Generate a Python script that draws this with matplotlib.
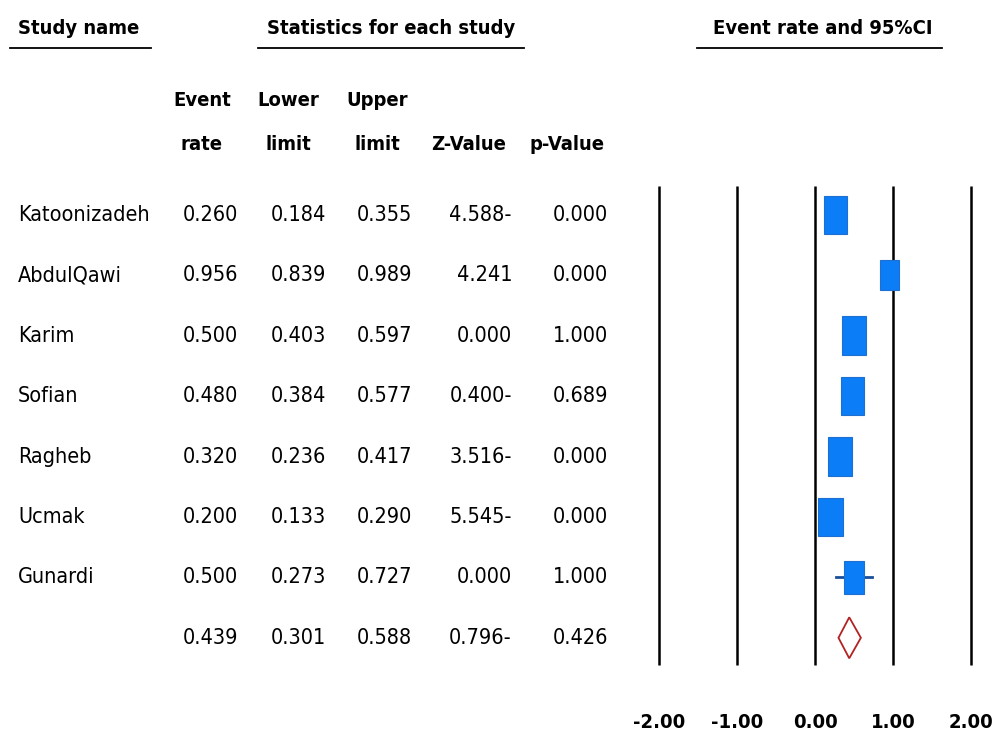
import matplotlib
matplotlib.use("Agg")
import matplotlib.pyplot as plt
from matplotlib.patches import Rectangle, Polygon
import matplotlib.font_manager as fm

# ---------------- data ----------------
studies = ["Katoonizadeh", "AbdulQawi", "Karim", "Sofian", "Ragheb", "Ucmak", "Gunardi"]
event_rate = [0.260, 0.956, 0.500, 0.480, 0.320, 0.200, 0.500]
lower_limit = [0.184, 0.839, 0.403, 0.384, 0.236, 0.133, 0.273]
upper_limit = [0.355, 0.989, 0.597, 0.577, 0.417, 0.290, 0.727]
z_value = [-4.588, 4.241, 0.000, -0.400, -3.516, -5.545, 0.000]
p_value = [0.000, 0.000, 1.000, 0.689, 0.000, 0.000, 1.000]
weights = [1.00, 0.80, 1.03, 1.00, 1.03, 1.03, 0.88]

summary_rate = 0.439
summary_lower = 0.301
summary_upper = 0.588
summary_z = -0.796
summary_p = 0.426

axis_ticks = [-2.0, -1.0, 0.0, 1.0, 2.0]
# --------------------------------------

names = [f.name for f in fm.fontManager.ttflist]
FAM = ["Liberation Sans Narrow", "DejaVu Sans"] if "Liberation Sans Narrow" in names else ["DejaVu Sans"]
STRETCH = "normal" if "Liberation Sans Narrow" in names else "condensed"

W, H = 1000, 754
fig = plt.figure(figsize=(W / 100, H / 100), dpi=100)
fig.patch.set_facecolor("white")


def fx(x):
    return x / W


def fy(y):
    return 1 - y / H


def txt(x, y, s, ha="center", bold=False, size=15.5):
    fig.text(fx(x), fy(y), s, ha=ha, va="center", fontsize=size,
             fontweight="bold" if bold else "normal", family=FAM,
             fontstretch=STRETCH, color="black")


def fmt_z(z):
    return f"{abs(z):.3f}-" if z < 0 else f"{z:.3f}"


HB = 14.5
# headers
txt(18, 28, "Study name", ha="left", bold=True, size=HB)
txt(391, 28, "Statistics for each study", bold=True, size=HB)
txt(823, 28, "Event rate and 95%CI", bold=True, size=HB)
for x0, x1 in [(10, 151), (258, 524), (697, 942)]:
    fig.add_artist(plt.Line2D([fx(x0), fx(x1)], [fy(48), fy(48)], color="black", lw=1.3))

col_heads = [(202, "Event", "rate"), (288, "Lower", "limit"), (377, "Upper", "limit"),
             (469, "", "Z-Value"), (567, "", "p-Value")]
for x, a, b in col_heads:
    if a:
        txt(x, 101, a, bold=True, size=HB)
    txt(x, 145, b, bold=True, size=HB)

row_y0 = 215
row_dy = 60.4

rows = list(zip(event_rate, lower_limit, upper_limit, z_value, p_value))
rows.append((summary_rate, summary_lower, summary_upper, summary_z, summary_p))
for i, (er, lo, up, z, p) in enumerate(rows):
    y = row_y0 + i * row_dy
    if i < len(studies):
        txt(18, y, studies[i], ha="left")
    txt(238, y, f"{er:.3f}", ha="right")
    txt(326, y, f"{lo:.3f}", ha="right")
    txt(412, y, f"{up:.3f}", ha="right")
    txt(512, y, fmt_z(z), ha="right")
    txt(608, y, f"{p:.3f}", ha="right")

# forest axes
ppu = 78.0
ax_left_px, ax_right_px = 640, 990
ax_top_px, ax_bot_px = 170, 680
ax = fig.add_axes([fx(ax_left_px), fy(ax_bot_px), (ax_right_px - ax_left_px) / W,
                   (ax_bot_px - ax_top_px) / H])
ax.set_xlim(-2 - (659 - ax_left_px) / ppu, -2 + (ax_right_px - 659) / ppu)
ax.set_ylim((ax_bot_px - row_y0) / row_dy, (ax_top_px - row_y0) / row_dy)
ax.axis("off")

y_top = (186 - row_y0) / row_dy
y_bot = (665 - row_y0) / row_dy
for t in axis_ticks:
    ax.plot([t, t], [y_top, y_bot], color="black", lw=1.8, solid_capstyle="butt")

box_w_px, box_h_px = 23.5, 37.5
for i, (er, lo, up, w) in enumerate(zip(event_rate, lower_limit, upper_limit, weights)):
    bw = box_w_px * w / ppu
    bh = box_h_px * w / row_dy
    # CI whiskers are drawn only where they extend beyond the box
    if lo < er - bw / 2:
        ax.plot([lo, er - bw / 2], [i, i], color="#1a4f9c", lw=2.0, zorder=3)
    if up > er + bw / 2:
        ax.plot([er + bw / 2, up], [i, i], color="#1a4f9c", lw=2.0, zorder=3)
    ax.add_patch(Rectangle((er - bw / 2, i - bh / 2), bw, bh, facecolor="#0a7df7",
                           edgecolor="#1f6fd0", lw=0.8, zorder=4))

i = len(studies)
dh = 20.5 / row_dy
ax.add_patch(Polygon([(summary_lower, i), (summary_rate, i - dh), (summary_upper, i),
                      (summary_rate, i + dh)], closed=True, facecolor="white",
                     edgecolor="#b22222", lw=1.3, zorder=4))

for t in axis_ticks:
    x_px = 659 + (t + 2) * ppu
    txt(x_px, 722, f"{t:.2f}", bold=True, size=HB)

fig.savefig("out.png", dpi=100, facecolor="white")
